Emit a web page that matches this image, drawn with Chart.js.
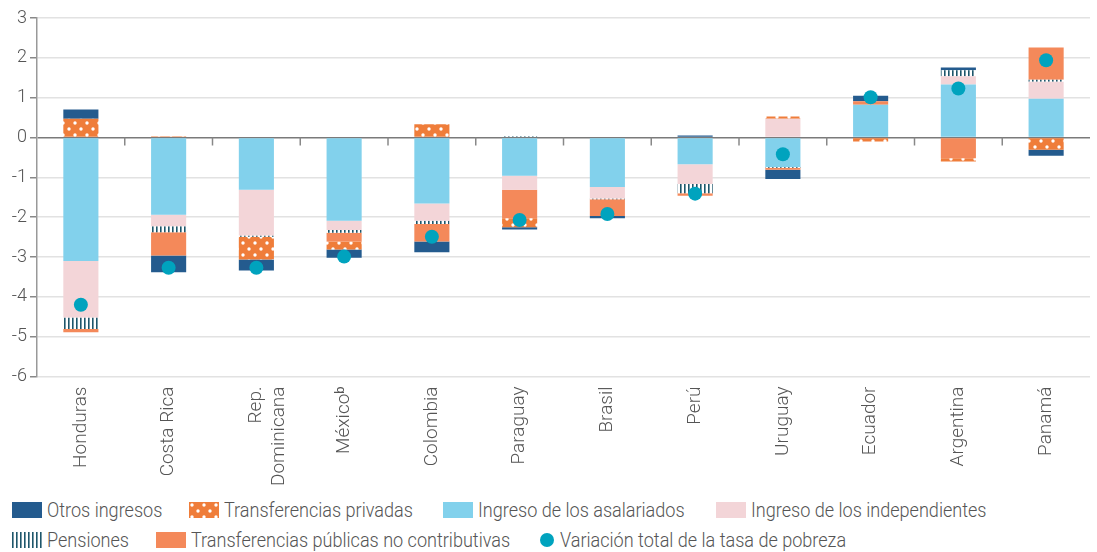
<!DOCTYPE html>
<html>
<head>
<meta charset="utf-8">
<script src="https://cdn.jsdelivr.net/npm/chart.js@4/dist/chart.umd.min.js"></script>
<style>
  body { margin: 0; background: #fff; font-family: Roboto, sans-serif; font-weight: 300; }
  #wrap { position: relative; width: 1097px; height: 552px; }
  #chartBox { position: absolute; left: 0; top: 0; width: 1097px; height: 490px; }
  .item { position: absolute; display: flex; align-items: center; color: #555; white-space: nowrap; height: 20px; }
  .item .t { display: inline-block; font-size: 21px; transform: scaleX(0.86); transform-origin: left center; }
  .sw { width: 30px; height: 16px; margin-right: 5px; flex: none; }
  .dot { width: 14px; height: 14px; border-radius: 50%; background: #00a3be; margin-right: 6px; flex: none; }
</style>
</head>
<body>
<div id="wrap">
  <div id="chartBox"><canvas id="chart"></canvas></div>
  <div class="item" style="left:12px; top:500px"><span class="sw" style="background:#245b8e"></span><span class="t">Otros ingresos</span></div>
  <div class="item" style="left:189px; top:500px"><span class="sw" id="swPriv"></span><span class="t">Transferencias privadas</span></div>
  <div class="item" style="left:443px; top:500px"><span class="sw" style="background:#82d1ec"></span><span class="t">Ingreso de los asalariados</span></div>
  <div class="item" style="left:716px; top:500px"><span class="sw" style="background:#f3d5d8"></span><span class="t">Ingreso de los independientes</span></div>
  <div class="item" style="left:12px; top:530px"><span class="sw" id="swPens"></span><span class="t">Pensiones</span></div>
  <div class="item" style="left:156px; top:530px"><span class="sw" style="background:#f4895a"></span><span class="t">Transferencias públicas no contributivas</span></div>
  <div class="item" style="left:540px; top:530px"><span class="dot"></span><span class="t">Variación total de la tasa de pobreza</span></div>
</div>
<script>
// Data (percentage points)
const countries = ["Honduras", "Costa Rica", ["Rep.", "Dominicana"], "Méxicoᵇ", "Colombia", "Paraguay", "Brasil", "Perú", "Uruguay", "Ecuador", "Argentina", "Panamá"];
const asalariados    = [-3.10, -1.94, -1.31, -2.09, -1.66, -0.96, -1.24, -0.67, -0.74, 0.82, 1.33, 0.97];
const independientes = [-1.42, -0.29, -1.15, -0.23, -0.43, -0.35, -0.29, -0.50, 0.47, 0, 0.21, 0.43];
const pensiones      = [-0.29, -0.15, -0.03, -0.07, -0.08, 0.03, -0.02, -0.23, -0.02, 0, 0.15, 0.05];
const publicas       = [-0.08, -0.58, 0, -0.22, -0.44, -0.72, -0.42, -0.06, -0.05, 0.09, -0.52, 0.81];
const privadas       = [0.47, 0.03, -0.57, -0.20, 0.33, -0.22, 0, 0, 0.06, -0.10, -0.08, -0.31];
const otros          = [0.23, -0.42, -0.28, -0.21, -0.27, -0.06, -0.06, 0.05, -0.23, 0.14, 0.07, -0.15];
const variacion      = [-4.20, -3.27, -3.27, -2.99, -2.49, -2.07, -1.92, -1.41, -0.42, 1.01, 1.23, 1.94];
const yTicks = [3, 2, 1, 0, -1, -2, -3, -4, -5, -6];

const FONT = "Roboto, sans-serif";

// Patterns
function dotPattern() {
  const c = document.createElement("canvas");
  c.width = 12; c.height = 12;
  const g = c.getContext("2d");
  g.fillStyle = "#ef7d3a";
  g.fillRect(0, 0, 12, 12);
  g.fillStyle = "#fff";
  [[3, 3], [9, 9]].forEach(p => { g.beginPath(); g.arc(p[0], p[1], 1.7, 0, Math.PI * 2); g.fill(); });
  return c;
}
function stripePattern() {
  const c = document.createElement("canvas");
  c.width = 4; c.height = 4;
  const g = c.getContext("2d");
  g.fillStyle = "#fff";
  g.fillRect(0, 0, 4, 4);
  g.fillStyle = "#1e566b";
  g.fillRect(0, 0, 1.6, 4);
  return c;
}
const ctx = document.getElementById("chart").getContext("2d");
const dotsCanvas = dotPattern();
const stripesCanvas = stripePattern();
const privPattern = ctx.createPattern(dotsCanvas, "repeat");
const pensPattern = ctx.createPattern(stripesCanvas, "repeat");
document.getElementById("swPriv").style.background = "url(" + dotsCanvas.toDataURL() + ")";
document.getElementById("swPens").style.background = "url(" + stripesCanvas.toDataURL() + ")";

// Small ticks on the zero line between categories
const zeroTicks = {
  id: "zeroTicks",
  beforeDatasetsDraw(chart) {
    const x = chart.scales.x, y = chart.scales.y;
    const y0 = y.getPixelForValue(0);
    const c = chart.ctx;
    c.save();
    c.strokeStyle = "#888";
    c.lineWidth = 1.5;
    for (let i = 1; i < countries.length; i++) {
      const px = (x.getPixelForValue(i - 1) + x.getPixelForValue(i)) / 2;
      c.beginPath();
      c.moveTo(px, y0);
      c.lineTo(px, y0 + 8);
      c.stroke();
    }
    c.restore();
  }
};

const bar = (label, data, color) => ({ type: "bar", label, data, backgroundColor: color, borderWidth: 0, stack: "s", order: 1 });

new Chart(ctx, {
  data: {
    labels: countries,
    datasets: [
      {
        type: "line", label: "Variación total de la tasa de pobreza", data: variacion,
        showLine: false, pointRadius: 7, pointHoverRadius: 7, pointBackgroundColor: "#00a3be",
        pointBorderWidth: 0, borderColor: "#00a3be", stack: "dot", order: 0
      },
      bar("Ingreso de los asalariados", asalariados, "#82d1ec"),
      bar("Ingreso de los independientes", independientes, "#f3d5d8"),
      bar("Pensiones", pensiones, pensPattern),
      bar("Transferencias públicas no contributivas", publicas, "#f4895a"),
      bar("Transferencias privadas", privadas, privPattern),
      bar("Otros ingresos", otros, "#245b8e")
    ]
  },
  options: {
    responsive: true,
    maintainAspectRatio: false,
    animation: false,
    layout: { padding: { top: 18, right: 0, left: 0, bottom: 0 } },
    plugins: { legend: { display: false }, tooltip: { enabled: false } },
    datasets: { bar: { categoryPercentage: 1, barPercentage: 0.4 } },
    scales: {
      x: {
        stacked: true,
        grid: { display: false },
        border: { display: false },
        ticks: {
          color: "#555", padding: 2, minRotation: 90, maxRotation: 90, autoSkip: false,
          font: { family: FONT, size: 19, weight: 300 }
        },
        afterFit(s) { s.height = 113.5; }
      },
      y: {
        stacked: true,
        min: -6, max: 3,
        afterBuildTicks(s) { s.ticks = yTicks.map(v => ({ value: v })); },
        grid: {
          color: c => c.tick && c.tick.value === 0 ? "#7a7a7a" : "#e2e2e2",
          lineWidth: 1.5,
          tickColor: "#888", tickLength: 7
        },
        border: { display: true, color: "#999", width: 1.5 },
        ticks: {
          color: "#555", padding: 3,
          font: { family: FONT, size: 18, weight: 300 }
        },
        afterFit(s) { s.width = 37; }
      }
    }
  },
  plugins: [zeroTicks]
});
</script>
</body>
</html>
